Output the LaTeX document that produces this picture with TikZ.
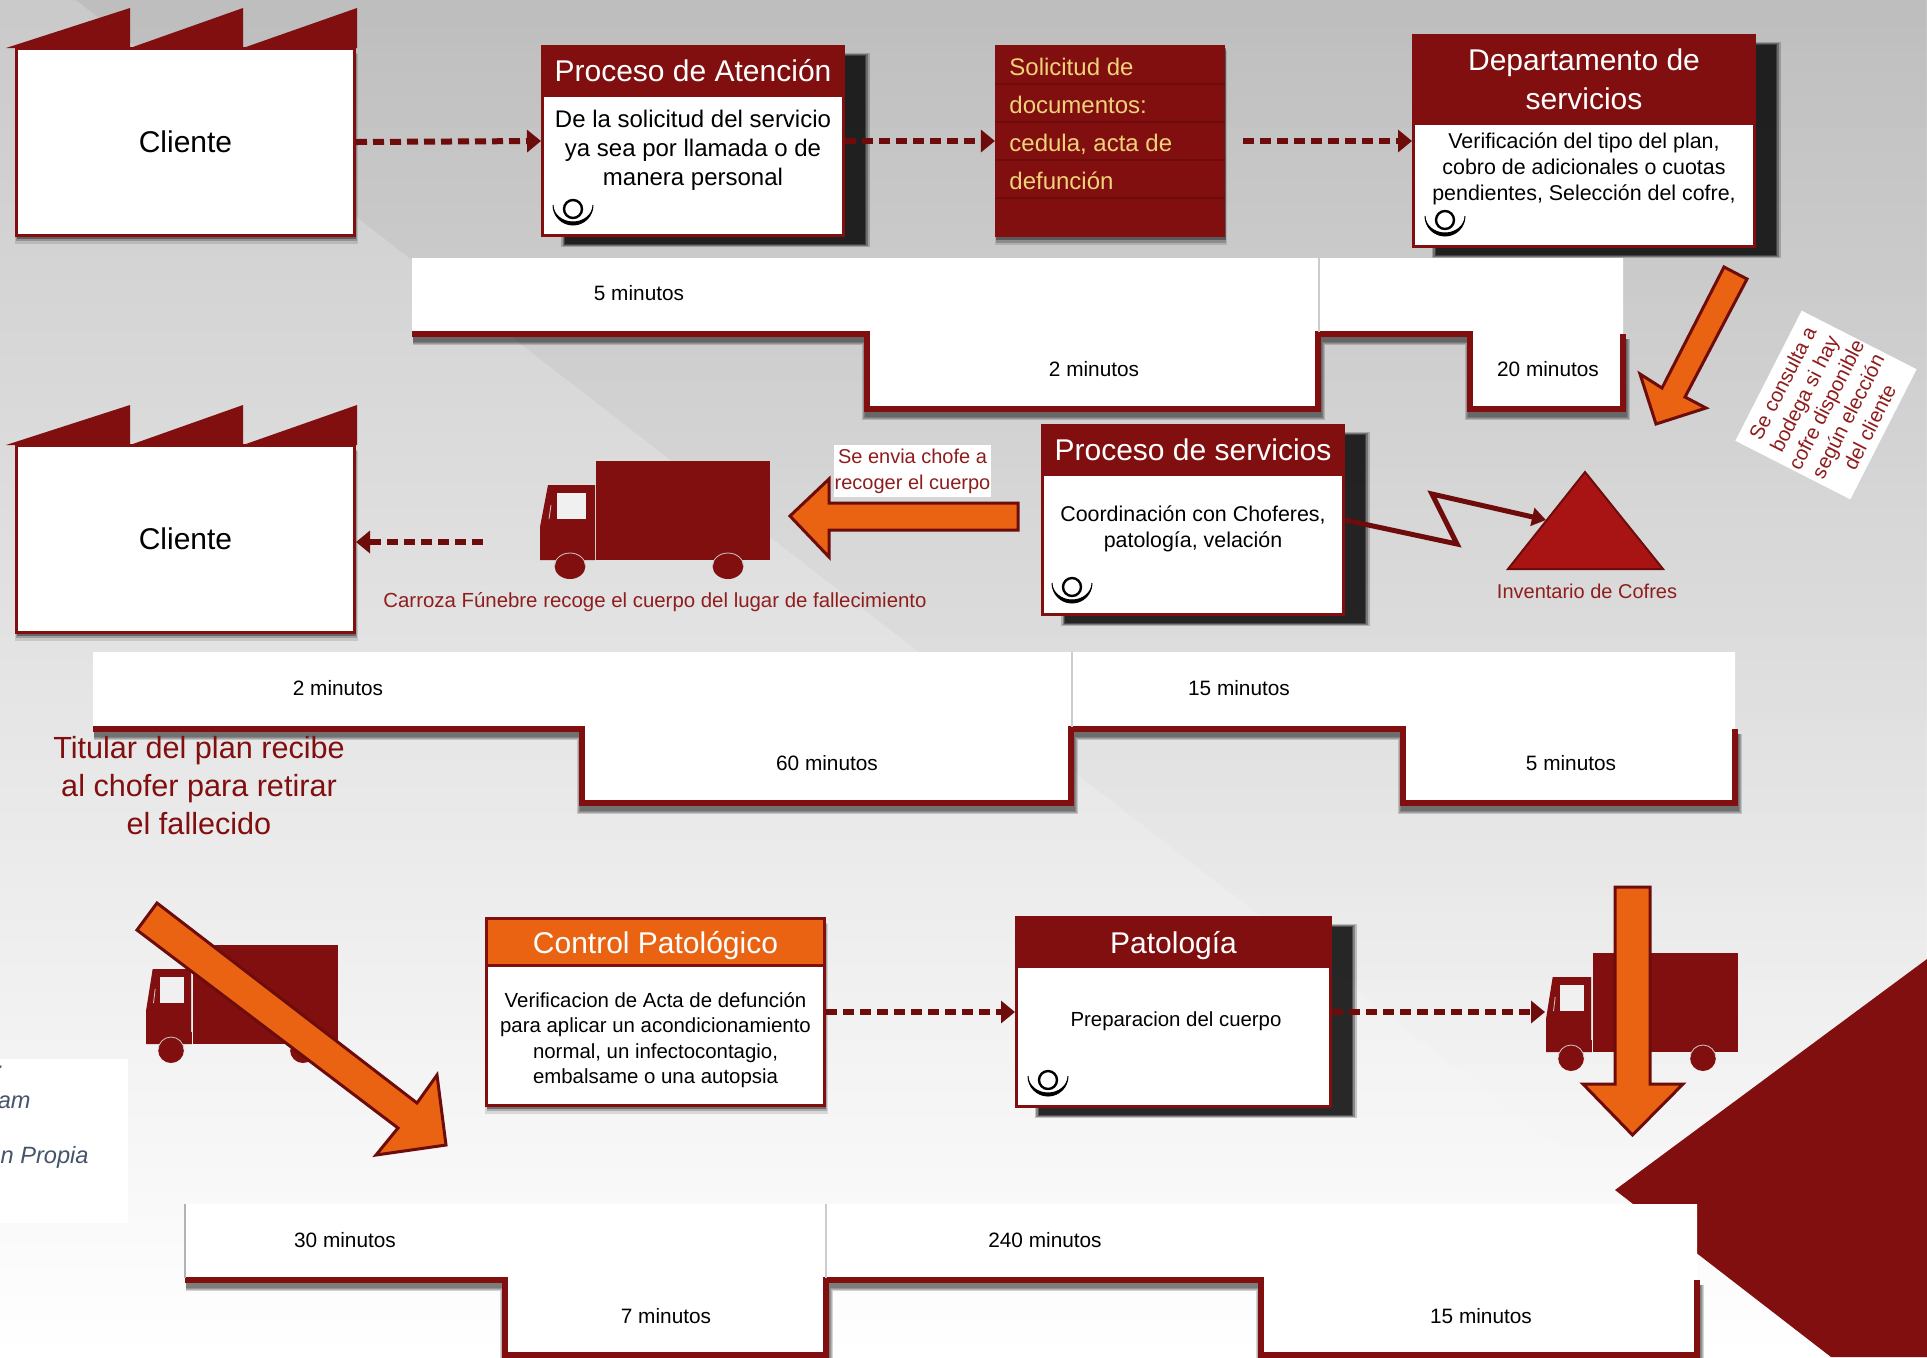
\documentclass[tikz,border=0pt]{standalone}
\usepackage{fontspec}
\setmainfont{Liberation Sans}
\usetikzlibrary{arrows.meta,shadows,fadings}

\definecolor{vino}{HTML}{810F0F}
\definecolor{vinoB}{HTML}{6E0C0C}
\definecolor{rojo}{HTML}{A81414}
\definecolor{naranja}{HTML}{EA6312}
\definecolor{amarillo}{HTML}{F0D27A}
\definecolor{rotulo}{HTML}{8F1D1D}
\definecolor{fuente}{HTML}{44546A}

\tikzset{
    sombra caja/.style = {
        general shadow = {shadow xshift = 11pt, shadow yshift = -4.5pt, shadow scale = 1.025, fill = black, opacity = 0.2},
        general shadow = {shadow xshift = 11pt, shadow yshift = -4.5pt, shadow scale = 1.015, fill = black, opacity = 0.3},
        general shadow = {shadow xshift = 11pt, shadow yshift = -4.5pt, shadow scale = 1.005, fill = black, opacity = 0.4},
        general shadow = {shadow xshift = 11pt, shadow yshift = -4.5pt, shadow scale = 0.995, fill = black, opacity = 0.5}
    },
    sombra baja/.style = {
        general shadow = {shadow xshift = 0.5pt, shadow yshift = -3.5pt, shadow scale = 1.012, fill = black, opacity = 0.12},
        general shadow = {shadow xshift = 0.5pt, shadow yshift = -2.5pt, shadow scale = 1.006, fill = black, opacity = 0.2},
        general shadow = {shadow xshift = 0.5pt, shadow yshift = -1.5pt, shadow scale = 1.002, fill = black, opacity = 0.35}
    },
    caja/.style = {shape = rectangle, draw = vino, fill = white, line width = 1.5pt, inner sep = 0pt, minimum width = 150.5pt, minimum height = 94.5pt},
    cabecera/.style = {shape = rectangle, fill = vino, text = white, inner sep = 0pt, align = center, minimum width = 152pt, minimum height = 26pt, font = \fontsize{15}{19.3}\selectfont},
    texto/.style = {align = center, inner sep = 0pt, font = \fontsize{12}{14.5}\selectfont},
    texto chico/.style = {align = center, inner sep = 0pt, font = \fontsize{10.7}{12.9}\selectfont},
    minutos/.style = {inner sep = 0pt, font = \fontsize{10.4}{12}\selectfont},
    rotulado/.style = {align = center, inner sep = 0pt, text = rotulo, font = \fontsize{10.2}{13}\selectfont},
    punteada/.style = {draw = vinoB, line width = 3pt, dash pattern = on 5.5pt off 3pt, -{Triangle[length = 7pt, width = 11pt]}},
    bloque/.style = {fill = naranja, draw = vinoB, line width = 1.5pt, line join = miter},
    tiempo/.style = {draw = vino, line width = 3pt, line join = miter},
    techo/.pic = {
        \fill [vino] (6,48) -- (130,8) -- (130,48) -- (243,8) -- (243,48) -- (357,8) -- (357,48) -- cycle;
    },
    operario/.pic = {
        \draw [line width = 1.2pt] (0,3) circle (9);
        \fill [draw, line width = 0.5pt] (-20,-1) arc [start angle = 180, end angle = 0, radius = 20] arc [start angle = 0, end angle = 180, x radius = 20, y radius = 17];
    },
    camion/.pic = {
        \fill [vino] (56,-99) rectangle (230,0);
        \fill [vino] (0,0) -- (0,-33) -- (8,-75) -- (55,-75) -- (55,0) -- cycle;
        \fill [gray!12] (17,-67) rectangle (46,-41);
        \draw [gray!40, line width = 0.5pt] (55,-75) -- (55,-12);
        \draw [gray!40, line width = 0.4pt] (9,-41) -- (11,-55);
        \fill [vino] (30,6) ellipse (15.5 and 13);
        \fill [vino] (188,6) ellipse (15.5 and 13);
        \draw [gray!40, line width = 0.4pt] (14.5,6) arc [start angle = 180, end angle = 360, x radius = 15.5, y radius = 13];
        \draw [gray!40, line width = 0.4pt] (172.5,6) arc [start angle = 180, end angle = 360, x radius = 15.5, y radius = 13];
    }
}

\newcommand{\lineatiempo}[2]{
    \foreach \w in {6,5,4,3} {
        \draw [black, opacity = 0.16, line width = \w pt, shift = {(1,5)}] #1;
    }
    \fill [white] #1 -- #2 -- cycle;
    \draw [tiempo] #1;
}

\begin{document}
\begin{tikzpicture}[x = 0.5pt, y = -0.5pt]
    \useasboundingbox (0,0) rectangle (1927,1357);
    \shade [top color = black!21, bottom color = white] (0,0) rectangle (1927,1357);
    \fill [black, opacity = 0.055, path fading = south] (76,0) -- (1615,1190) -- (1927,1190) -- (1927,0) -- cycle;
    \fill [vino] (1927,959) -- (1615,1190) -- (1831,1357) -- (1927,1357) -- cycle;

    \fill [white] (0,1059) rectangle (128,1223);
    \node [anchor = east, inner sep = 0pt, text = fuente, font = \fontsize{11.8}{14}\selectfont\itshape] (fuenteA) at (3,1072) {:};
    \node [anchor = east, inner sep = 0pt, text = fuente, font = \fontsize{11.8}{14}\selectfont\itshape] (fuenteB) at (31,1102) {am};
    \node [anchor = east, inner sep = 0pt, text = fuente, font = \fontsize{11.8}{14}\selectfont\itshape] (fuenteC) at (89,1157) {n Propia};

    \lineatiempo{(412,334) -- (867,334) -- (867,409) -- (1318,409) -- (1318,334) -- (1470,334) -- (1470,409) -- (1623,409) -- (1623,334)}{(1623,258) -- (412,258)}
    \draw [gray!40, line width = 0.8pt] (1319,258) -- (1319,332);
    \lineatiempo{(93,729) -- (582,729) -- (582,803) -- (1071,803) -- (1071,729) -- (1403,729) -- (1403,803) -- (1735,803) -- (1735,729)}{(1735,652) -- (93,652)}
    \draw [gray!40, line width = 0.8pt] (1072,652) -- (1072,727);
    \lineatiempo{(185,1280) -- (505,1280) -- (505,1355) -- (826,1355) -- (826,1280) -- (1261,1280) -- (1261,1355) -- (1697,1355) -- (1697,1280)}{(1697,1204) -- (185,1204)}
    \draw [gray!40, line width = 0.8pt] (826,1204) -- (826,1278);
    \draw [gray!60, line width = 0.8pt] (185,1204) -- (185,1278);

    \node [minutos] (t1) at (639,293) {5 minutos};
    \node [minutos] (t2) at (1094,369) {2 minutos};
    \node [minutos] (t3) at (1548,369) {20 minutos};
    \node [minutos] (t4) at (338,688) {2 minutos};
    \node [minutos] (t5) at (827,763) {60 minutos};
    \node [minutos] (t6) at (1239,688) {15 minutos};
    \node [minutos] (t7) at (1571,763) {5 minutos};
    \node [minutos] (t8) at (345,1240) {30 minutos};
    \node [minutos] (t9) at (666,1316) {7 minutos};
    \node [minutos] (t10) at (1045,1240) {240 minutos};
    \node [minutos] (t11) at (1481,1316) {15 minutos};

    \pic at (0,0) {techo};
    \node [caja, sombra baja, minimum width = 169pt, minimum height = 93.5pt, font = \fontsize{15}{18}\selectfont] (cliente) at (185.5,142) {Cliente};
    \pic at (0,397) {techo};
    \node [caja, sombra baja, minimum width = 169pt, minimum height = 93.5pt, font = \fontsize{15}{18}\selectfont] (clienteB) at (185.5,539) {Cliente};

    \node [caja, sombra caja] (atencion) at (693,141) {};
    \node [cabecera] (atencionT) at (693,71) {Proceso de Atención};
    \node [texto] (atencionX) at (693,150) {De la solicitud del servicio\\ya sea por llamada o de\\manera personal};
    \pic at (573,206) {operario};

    \node [shape = rectangle, fill = vino, sombra baja, minimum width = 114.7pt, minimum height = 96pt, inner sep = 0pt] (solicitud) at (1110,141) {};
    \foreach \y in {84,122,160,198} {
        \draw [vinoB, line width = 1.2pt] (solicitud.west |- 0,\y) -- (solicitud.east |- 0,\y);
    }
    \node [anchor = west, align = left, inner sep = 0pt, text = amarillo, font = \fontsize{12}{19}\selectfont] (solicitudX) at (1009,124) {Solicitud de\\documentos:\\cedula, acta de\\defunción};

    \node [caja, sombra caja, minimum width = 170.5pt, minimum height = 105.5pt] (depto) at (1584,141) {};
    \node [cabecera, minimum width = 172pt, minimum height = 45.5pt] (deptoT) at (1584,79.5) {Departamento de\\servicios};
    \node [texto chico] (deptoX) at (1584,169) {Verificación del tipo del plan,\\cobro de adicionales o cuotas\\pendientes,  Selección del cofre,};
    \pic at (1445,217) {operario};

    \node [caja, sombra caja] (servicios) at (1193,520) {};
    \node [cabecera] (serviciosT) at (1193,450) {Proceso de servicios};
    \node [texto chico] (serviciosX) at (1193,529) {Coordinación con Choferes,\\patología, velación};
    \pic at (1072,584) {operario};

    \node [caja, sombra baja, minimum width = 169pt, minimum height = 93.5pt] (control) at (655.5,1012) {};
    \node [cabecera, fill = naranja, draw = vino, line width = 1.5pt, minimum width = 169pt, minimum height = 23.5pt] (controlT) at (655.5,942) {\raisebox{-1.7pt}[\height][\depth]{Control Patológico}};
    \node [texto chico, font = \fontsize{10.2}{12.6}\selectfont] (controlX) at (655.5,1040) {Verificacion de Acta de defunción\\para aplicar un acondicionamiento\\normal, un infectocontagio,\\embalsame o una autopsia};

    \node [caja, sombra caja, minimum width = 157pt] (patologia) at (1173.5,1012) {};
    \node [cabecera, minimum width = 158.5pt] (patologiaT) at (1173.5,942) {\raisebox{-1.7pt}[\height][\depth]{Patología}};
    \node [texto chico, font = \fontsize{10.2}{13}\selectfont] (patologiaX) at (1176,1021) {Preparacion del cuerpo};
    \pic at (1048,1077) {operario};

    \pic at (540,560) {camion};
    \pic [xscale = 0.835] at (146,1044) {camion};
    \pic [xscale = 0.835] at (1546,1052) {camion};

    \coordinate (salidaA) at (1243,141);
    \coordinate (salidaB) at (483,542);
    \coordinate (camionC) at (1545,1012);
    \coordinate (cofres) at (1546,520);
    \draw [punteada] (cliente.east) -- (atencion.west);
    \draw [punteada] (atencion.east) -- (solicitud.west);
    \draw [punteada] (salidaA) -- (depto.west |- salidaA);
    \draw [punteada] (salidaB) -- (clienteB.east |- salidaB);
    \draw [punteada] (control.east) -- (patologia.west);
    \draw [punteada] (patologia.east) -- (camionC);

    \draw [bloque] (1724,267) -- (1747,279) -- (1685,397) -- (1706,408) -- (1656,424) -- (1640,374) -- (1662,388) -- cycle;
    \draw [bloque] (1018,503) -- (1018,530) -- (829,530) -- (829,557) -- (790,516) -- (829,479) -- (829,503) -- cycle;
    \draw [bloque] (157,903) -- (417,1103) -- (437,1075) -- (446,1145) -- (376,1155) -- (398,1128) -- (137,930) -- cycle;
    \draw [bloque] (1615,887) -- (1650,887) -- (1650,1084) -- (1683,1084) -- (1632.5,1135) -- (1583,1084) -- (1615,1084) -- cycle;

    \node [rotulado, fill = white, minimum width = 78.5pt, minimum height = 26pt, font = \fontsize{10}{13}\selectfont] (envio) at (912.5,471) {Se envia chofe a\\recoger el cuerpo};
    \node [rotulado, fill = white, rotate = 63, minimum width = 73pt, minimum height = 64.5pt, font = \fontsize{10.2}{12.2}\selectfont] (nota) at (1826,405) {Se consulta a\\bodega si hay\\cofre disponible\\según elección\\del cliente};

    \draw [fill = rojo, draw = vinoB, line width = 1pt, line join = miter] (1585,472) -- (1663,569) -- (1508,569) -- cycle;
    \draw [draw = vinoB, line width = 2.5pt, line join = miter, -{Triangle[length = 7pt, width = 9pt]}] (servicios.east) -- (1457,544) -- (1432,494) -- (cofres);
    \node [rotulado, font = \fontsize{10}{12}\selectfont] (inventario) at (1587,591) {Inventario de Cofres};
    \node [rotulado] (carroza) at (655,602) {Carroza Fúnebre recoge el cuerpo del lugar de fallecimiento};
    \node [rotulado, text = vino, font = \fontsize{15.3}{19}\selectfont] (titular) at (199,786) {Titular del plan recibe\\al chofer para retirar\\el fallecido};
\end{tikzpicture}
\end{document}
